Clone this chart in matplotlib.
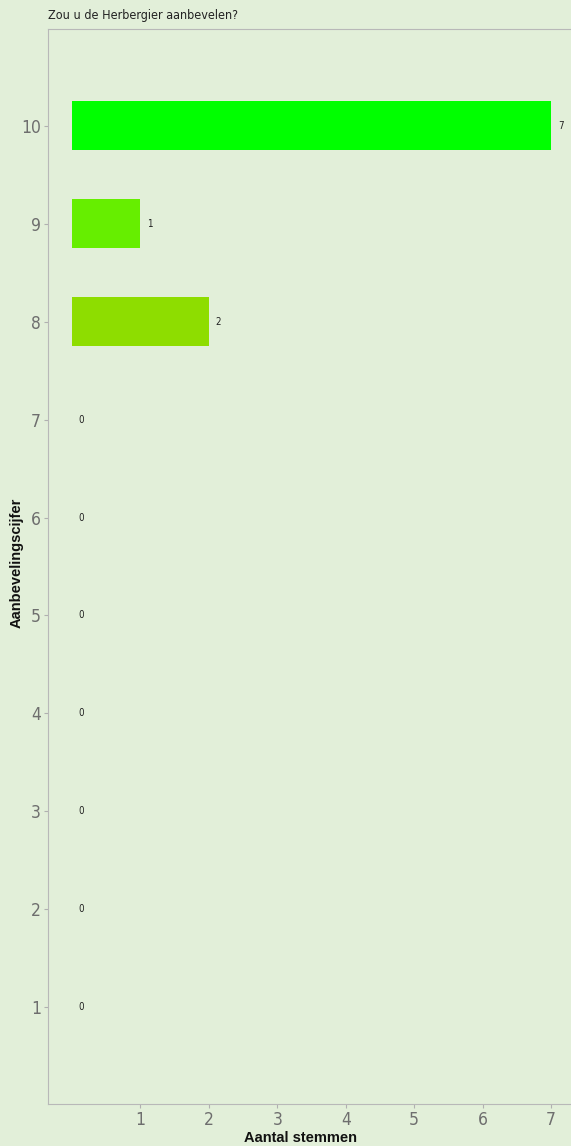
import matplotlib.pyplot as plt

scores = [1, 2, 3, 4, 5, 6, 7, 8, 9, 10]
votes = [0, 0, 0, 0, 0, 0, 0, 2, 1, 7]
bar_colors = ['#00ff00'] * 7 + ['#8edd00', '#66ee00', '#00ff00']
xticks = [1, 2, 3, 4, 5, 6, 7]

plt.rcParams['font.family'] = ['DejaVu Sans']
plt.rcParams['font.stretch'] = 'condensed'
bg = '#e2efd9'

fig = plt.figure(figsize=(5.71, 11.46), dpi=100, facecolor=bg)
ax = fig.add_axes([48/571, 1 - 1104/1146, 1 - 48/571, (1104 - 29)/1146], facecolor=bg)

ax.barh(scores, votes, height=0.5, color=bar_colors)
for s, v in zip(scores, votes):
    ax.text(v + 0.1, s, str(v), va='center', ha='left', fontsize=7, color='#222222')

ax.set_xlim(-0.35, 7.29)
ax.set_ylim(0.01, 10.99)
ax.set_xticks(xticks)
ax.set_yticks(scores)
ax.tick_params(axis='both', colors='#b0b0b0', labelcolor='#6e6e6e', labelsize=12.5,
               length=3, pad=2)

for side in ['left', 'top', 'bottom']:
    ax.spines[side].set_color('#b8b8b8')
ax.spines['right'].set_visible(False)

fig.text(300/571, 1 - 1138/1146, 'Aantal stemmen', fontsize=10.5, fontweight='bold',
         family='Liberation Sans', stretch='normal',
         ha='center', va='center', color='#111111')
fig.text(17/571, 1 - 563/1146, 'Aanbevelingscijfer', fontsize=10.5, fontweight='bold',
         family='Liberation Sans', stretch='normal',
         rotation=90, ha='center', va='center', color='#111111')
fig.text(48/571, 1 - 15/1146, 'Zou u de Herbergier aanbevelen?', fontsize=9,
         color='#222222', va='center', ha='left')

fig.savefig('out.png', dpi=100, facecolor=bg)
